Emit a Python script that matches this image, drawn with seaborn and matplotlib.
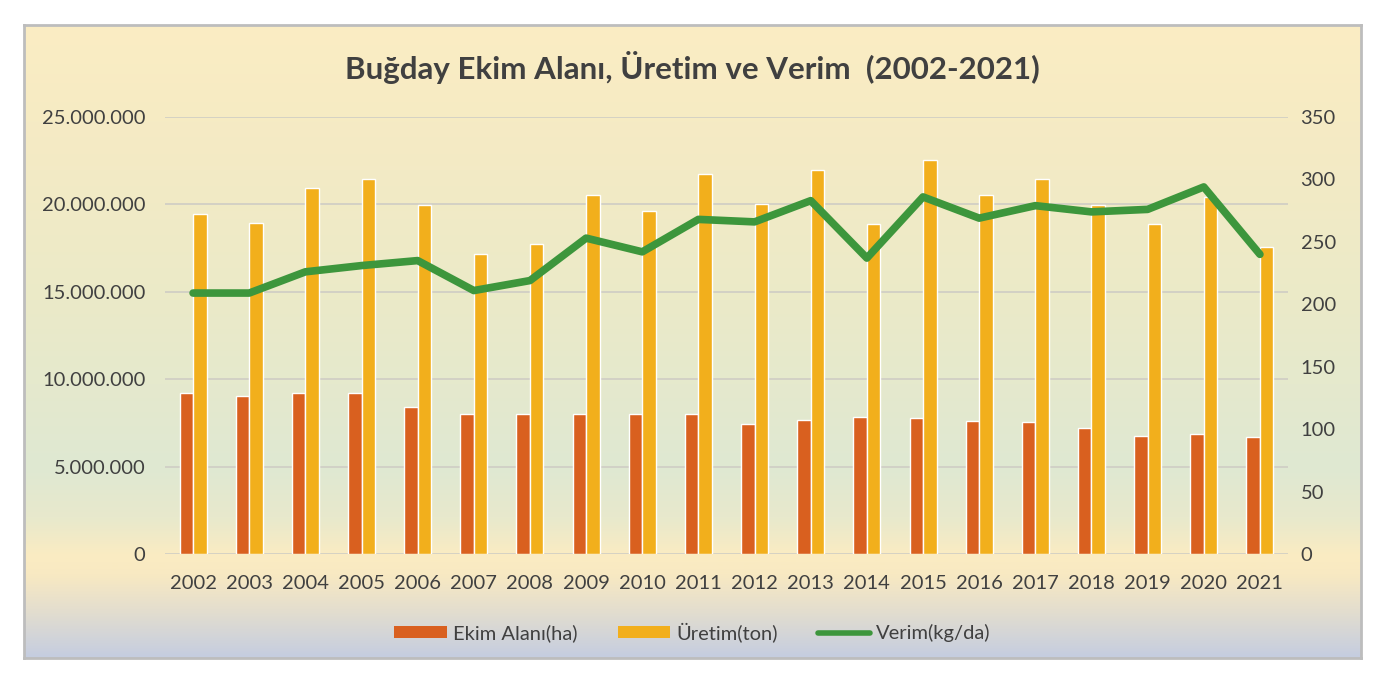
import numpy as np
import pandas as pd
import matplotlib
matplotlib.use("Agg")
import matplotlib.pyplot as plt
import seaborn as sns
from matplotlib.colors import LinearSegmentedColormap
from matplotlib.patches import Patch
from matplotlib.lines import Line2D

# Data
years = [str(y) for y in range(2002, 2022)]
ekim_alani = [9.23, 9.04, 9.23, 9.19, 8.43, 8.01, 8.01, 8.01, 8.01, 8.01,
              7.44, 7.68, 7.84, 7.78, 7.59, 7.58, 7.23, 6.77, 6.86, 6.67]  # million ha
uretim = [19.45, 18.92, 20.94, 21.44, 19.95, 17.18, 17.72, 20.56, 19.6, 21.76,
          20.02, 21.99, 18.9, 22.54, 20.54, 21.44, 19.95, 18.9, 20.42, 17.56]  # million ton
verim = [209, 209, 226, 231, 235, 211, 219, 253, 242, 268,
         266, 283, 237, 286, 269, 279, 274, 276, 294, 240]  # kg/da

series_names = ["Ekim Alanı(ha)", "Üretim(ton)", "Verim(kg/da)"]
left_ticks = [0, 5_000_000, 10_000_000, 15_000_000, 20_000_000, 25_000_000]
right_ticks = [0, 50, 100, 150, 200, 250, 300, 350]

col_ekim = "#d9601f"
col_uretim = "#f2af1c"
col_verim = "#3d963c"
txt_col = "#404040"

sns.set_style("white")
plt.rcParams["font.family"] = ["Lato", "DejaVu Sans"]

bars = pd.DataFrame({
    "year": years * 2,
    "value": [v * 1e6 for v in ekim_alani] + [v * 1e6 for v in uretim],
    "series": [series_names[0]] * len(years) + [series_names[1]] * len(years),
})
line = pd.DataFrame({"pos": np.arange(len(years)), "verim": verim})

W, H = 1378, 678
fig = plt.figure(figsize=(W / 100, H / 100), dpi=100)
fig.patch.set_facecolor("white")

# Panel with gradient background
px0, px1, py0, py1 = 24, 1361, 25, 658
bg = fig.add_axes([px0 / W, 1 - py1 / H, (px1 - px0) / W, (py1 - py0) / H])
stops = [(0.0, "#fbedc3"), (0.15, "#f6ebc4"), (0.435, "#ebeac8"), (0.70, "#dfe8d2"),
         (0.78, "#e8e9cc"), (0.84, "#fbecc2"), (0.87, "#f8e9c2"), (0.93, "#e2ddcf"),
         (1.0, "#c5cde0")]
cmap = LinearSegmentedColormap.from_list("bg", stops)
bg.imshow(np.linspace(0, 1, 256).reshape(-1, 1), aspect="auto", cmap=cmap,
          extent=[0, 1, 0, 1])
bg.set_xticks([])
bg.set_yticks([])
for s in bg.spines.values():
    s.set_color("#bdbdbd")
    s.set_linewidth(2)

# Main axes
ax = fig.add_axes([165 / W, 1 - 554 / H, (1288 - 165) / W, (554 - 117) / H])
ax.set_facecolor("none")
sns.barplot(data=bars, x="year", y="value", hue="series",
            palette=[col_ekim, col_uretim], width=0.48, gap=0,
            saturation=1, ax=ax, legend=False, zorder=2)
ax.set_xlim(-0.5, len(years) - 0.5)
ax.set_ylim(0, 25_000_000)
ax.set_yticks(left_ticks)
ax.set_yticklabels([f"{v:,}".replace(",", ".") for v in left_ticks])
ax.grid(axis="y", color="#cfcdc4", linewidth=1.2, zorder=0)
ax.set_axisbelow(True)
ax.set_xlabel("")
ax.set_ylabel("")
for s in ax.spines.values():
    s.set_visible(False)
ax.tick_params(axis="y", length=0, pad=14, labelsize=14.5, labelcolor=txt_col)
ax.tick_params(axis="x", length=0, pad=15, labelsize=14.5, labelcolor=txt_col)

ax2 = ax.twinx()
sns.lineplot(data=line, x="pos", y="verim", color=col_verim, linewidth=5.5,
             ax=ax2, zorder=3)
ax2.set_ylim(0, 350)
ax2.set_yticks(right_ticks)
ax2.set_xlim(-0.5, len(years) - 0.5)
ax2.set_ylabel("")
ax2.set_xlabel("")
for s in ax2.spines.values():
    s.set_visible(False)
ax2.tick_params(axis="y", length=0, pad=9, labelsize=14.5, labelcolor=txt_col)
ax2.grid(False)

# Title
fig.text(0.5 * (px0 + px1) / W, 1 - 68 / H, "Buğday Ekim Alanı, Üretim ve Verim  (2002-2021)",
         ha="center", va="center", fontsize=22.5, fontweight="bold", color=txt_col)

# Legend
handles = [Patch(facecolor=col_ekim, edgecolor="none"),
           Patch(facecolor=col_uretim, edgecolor="none"),
           Line2D([0], [0], color=col_verim, linewidth=4)]
leg = fig.legend(handles, series_names, loc="center", ncol=3,
                 bbox_to_anchor=(0.5 * (px0 + px1) / W, 1 - 632 / H), frameon=False,
                 fontsize=14.5, handlelength=2.6, handleheight=0.5, handletextpad=0.3,
                 columnspacing=2.0)
for t in leg.get_texts():
    t.set_color(txt_col)

fig.savefig("out.png", dpi=100)
